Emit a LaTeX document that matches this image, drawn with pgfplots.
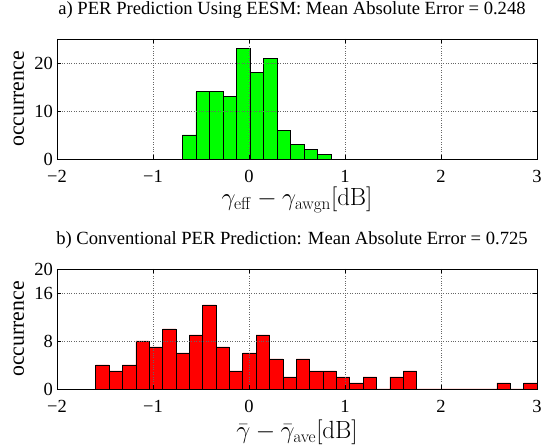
\documentclass[border=0pt]{standalone}
\usepackage[no-math]{fontspec}
\setmainfont{Liberation Serif}
\usepackage{pgfplots}
\pgfplotsset{compat=1.18}
\begin{document}
\begin{tikzpicture}
\useasboundingbox (0pt,0pt) rectangle (557pt,447pt);
\pgfplotsset{
  common/.style={
    scale only axis, width=480pt, height=120pt,
    xmin=-2, xmax=3, ymin=0,
    xtick={-2,-1,0,1,2,3},
    xticklabels={−2,−1,0,1,2,3},
    tick align=inside,
    major tick length=4pt,
    grid=major,
    grid style={dotted, black!60, line width=0.6pt},
    axis line style={line width=0.7pt},
    tick style={black, line width=0.5pt},
    every tick label/.append style={font=\fontsize{18.5}{20}\selectfont},
    /pgf/number format/assume math mode=true,
    xticklabel style={anchor=base, inner sep=0pt, yshift=-24pt},
    yticklabel style={anchor=east, inner sep=0pt, xshift=-4pt},
    title style={font=\fontsize{18.6}{21}\selectfont, at={(axis description cs:0.5,1)}, anchor=base, yshift=18pt, xshift=-5pt},
    xlabel style={font=\fontsize{24}{26}\selectfont, at={(axis description cs:0.5,0)}, anchor=base},
    ylabel style={font=\fontsize{21.8}{24}\selectfont, at={(axis description cs:0,0.5)}, anchor=base, yshift=33pt},
    axis on top,
  }
}
\begin{axis}[common, at={(57pt,288pt)}, anchor=south west,
  ymax=25, ytick={0,10,20},
  title={a) PER Prediction Using EESM: Mean Absolute Error = 0.248},
  xlabel={$\gamma_{\mathrm{eff}}-\gamma_{\mathrm{awgn}}[\mathrm{dB}]$},
  xlabel style={yshift=-47pt},
  ylabel={occurrence}]
\addplot[ybar interval, fill={rgb,1:red,0;green,1;blue,0}, draw=black, line width=0.6pt] coordinates {
(-0.694,5) (-0.553,14) (-0.412,14) (-0.271,13) (-0.130,23) (0.011,18)
(0.152,21) (0.293,6) (0.434,3) (0.575,2) (0.716,1) (0.857,0)
};
\end{axis}
\begin{axis}[common, at={(57pt,58pt)}, anchor=south west,
  ymax=20, ytick={0,8,16,20},
  title={b) Conventional PER Prediction: Mean Absolute Error = 0.725},
  xlabel={$\bar{\gamma}-\bar{\gamma}_{\mathrm{ave}}[\mathrm{dB}]$},
  xlabel style={yshift=-50pt},
  ylabel={occurrence}]
\addplot[ybar interval, fill={rgb,1:red,1;green,0;blue,0}, draw=black, line width=0.6pt] coordinates {
(-1.5970,4) (-1.4577,3) (-1.3184,4) (-1.1791,8) (-1.0398,7) (-0.9005,10)
(-0.7612,6) (-0.6219,9) (-0.4826,14) (-0.3433,7) (-0.2040,3) (-0.0647,6)
(0.0746,9) (0.2139,5) (0.3532,2) (0.4925,5) (0.6318,3) (0.7711,3)
(0.9104,2) (1.0497,1) (1.1890,2) (1.3283,0) (1.4676,2) (1.6069,3)
(1.7462,0) (1.8855,0) (2.0248,0) (2.1641,0) (2.3034,0) (2.4427,0)
(2.5820,1) (2.7213,0) (2.8606,1) (3.0,0)
};
\end{axis}
\end{tikzpicture}
\end{document}
